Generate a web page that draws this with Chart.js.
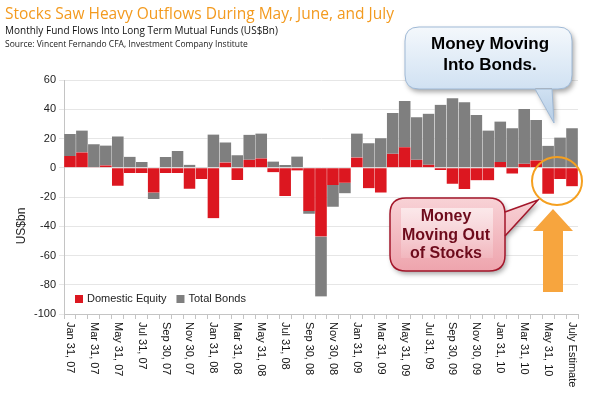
<!DOCTYPE html>
<html>
<head>
<meta charset="utf-8">
<script src="https://cdn.jsdelivr.net/npm/chart.js@4"></script>
<style>
  html, body { margin: 0; padding: 0; background: #fff; }
  #wrap { width: 590px; height: 396px; position: relative; }
</style>
</head>
<body>
<div id="wrap"><canvas id="flowChart" width="590" height="396"></canvas></div>
<script>
// month-end labels, only every other one is printed
const labels = [
  'Jan 31, 07', 'Feb 28, 07', 'Mar 31, 07', 'Apr 30, 07', 'May 31, 07', 'Jun 30, 07',
  'Jul 31, 07', 'Aug 31, 07', 'Sep 30, 07', 'Oct 31, 07', 'Nov 30, 07', 'Dec 31, 07',
  'Jan 31, 08', 'Feb 29, 08', 'Mar 31, 08', 'Apr 30, 08', 'May 31, 08', 'Jun 30, 08',
  'Jul 31, 08', 'Aug 31, 08', 'Sep 30, 08', 'Oct 31, 08', 'Nov 30, 08', 'Dec 31, 08',
  'Jan 31, 09', 'Feb 28, 09', 'Mar 31, 09', 'Apr 30, 09', 'May 31, 09', 'Jun 30, 09',
  'Jul 31, 09', 'Aug 31, 09', 'Sep 30, 09', 'Oct 31, 09', 'Nov 30, 09', 'Dec 31, 09',
  'Jan 31, 10', 'Feb 28, 10', 'Mar 31, 10', 'Apr 30, 10', 'May 31, 10', 'Jun 30, 10',
  'July Estimate'
];

// US$bn
const domesticEquity = [
  8, 10.5, 0.5, 1.6, -12.3, -3.6, -3.6, -17, -3.6, -3.6, -14.3, -7.7,
  -34.5, 3.6, -8.4, 5.5, 6.4, -3, -19.3, -1.8, -29.5, -47, -11.8, -10.2,
  7, -14, -17, 9.5, 14, 5.5, 2, -1.6, -10.9, -14.5, -8.6, -8.6,
  4, -4, 2.7, 5, -17.7, -7.7, -12.7
];
const totalBonds = [
  15, 15, 15.5, 13.6, 21.4, 7.5, 3.9, -4.3, 7.3, 11.4, 2, 0.5,
  22.7, 13.7, 8.6, 17, 17, 4.3, 1.8, 7.7, -2, -41, -14.8, -7.3,
  16.4, 16.8, 20.2, 28, 31.6, 29, 35, 43, 47.5, 44.8, 36, 25.5,
  27.6, 27, 37.5, 27.7, 15, 20.7, 27
];

const yMin = -100, yMax = 60, yStep = 20;

const RED = '#dc1720';
const GRAY = '#7f7f7f';
const AXIS_FONT = '"Liberation Sans", Arial, sans-serif';

function fitText(ctx, text, x, y, width, family, weight, maxSize) {
  let size = maxSize;
  ctx.font = weight + ' ' + size + 'px ' + family;
  while (ctx.measureText(text).width > width && size > 6) {
    size -= 0.25;
    ctx.font = weight + ' ' + size + 'px ' + family;
  }
  ctx.fillText(text, x, y);
}

function roundRectPath(ctx, x, y, w, h, r) {
  ctx.moveTo(x + r, y);
  ctx.lineTo(x + w - r, y);
  ctx.quadraticCurveTo(x + w, y, x + w, y + r);
  ctx.lineTo(x + w, y + h - r);
  ctx.quadraticCurveTo(x + w, y + h, x + w - r, y + h);
  ctx.lineTo(x + r, y + h);
  ctx.quadraticCurveTo(x, y + h, x, y + h - r);
  ctx.lineTo(x, y + r);
  ctx.quadraticCurveTo(x, y, x + r, y);
}

const decorations = {
  id: 'decorations',
  afterDraw(chart) {
    const ctx = chart.ctx;
    const xs = chart.scales.x;
    const area = chart.chartArea;
    ctx.save();

    // titles
    ctx.textBaseline = 'alphabetic';
    ctx.textAlign = 'left';
    ctx.fillStyle = '#f39a1e';
    fitText(ctx, 'Stocks Saw Heavy Outflows During May, June, and July', 5, 19, 390, '"Open Sans", sans-serif', 'normal', 18);
    ctx.fillStyle = '#111';
    fitText(ctx, 'Monthly Fund Flows Into Long Term Mutual Funds (US$Bn)', 5, 34, 275, '"Open Sans", sans-serif', 'normal', 12);
    ctx.fillStyle = '#222';
    fitText(ctx, 'Source: Vincent Fernando CFA, Investment Company Institute', 5, 47, 243, '"Open Sans", sans-serif', 'normal', 10);

    // y axis title
    ctx.save();
    ctx.translate(22, 226);
    ctx.rotate(-Math.PI / 2);
    ctx.textAlign = 'center';
    ctx.textBaseline = 'middle';
    ctx.fillStyle = '#222';
    ctx.font = '12px ' + AXIS_FONT;
    ctx.fillText('US$bn', 0, 0);
    ctx.restore();

    // x labels, rotated clockwise, every other month
    ctx.font = '11px ' + AXIS_FONT;
    ctx.fillStyle = '#111';
    labels.forEach((lab, i) => {
      if (i % 2 !== 0) return;
      const px = xs.getPixelForValue(i);
      ctx.save();
      ctx.translate(px, area.bottom + 8);
      ctx.rotate(Math.PI / 2);
      ctx.textAlign = 'left';
      ctx.textBaseline = 'middle';
      ctx.fillText(lab, 0, 0);
      ctx.restore();
    });

    // legend inside plot
    ctx.font = '11px ' + AXIS_FONT;
    ctx.textBaseline = 'middle';
    ctx.textAlign = 'left';
    const ly = area.bottom - 15;
    let lx = area.left + 11;
    chart.data.datasets.forEach(ds => {
      ctx.fillStyle = ds.backgroundColor;
      ctx.fillRect(lx, ly - 4, 8, 8);
      ctx.fillStyle = '#222';
      ctx.fillText(ds.label, lx + 12, ly);
      lx += 12 + ctx.measureText(ds.label).width + 10;
    });

    // blue bubble
    ctx.save();
    ctx.shadowColor = 'rgba(0,0,0,0.35)';
    ctx.shadowBlur = 5;
    ctx.shadowOffsetX = 2;
    ctx.shadowOffsetY = 3;
    ctx.beginPath();
    roundRectPath(ctx, 405, 27, 167, 62, 14);
    ctx.moveTo(535, 88);
    ctx.lineTo(554, 123);
    ctx.lineTo(552, 88);
    let g = ctx.createLinearGradient(0, 27, 0, 123);
    g.addColorStop(0, '#f4f8fc');
    g.addColorStop(0.6, '#d3e3f3');
    g.addColorStop(1, '#b5cde6');
    ctx.fillStyle = g;
    ctx.fill();
    ctx.restore();
    ctx.beginPath();
    roundRectPath(ctx, 405, 27, 167, 62, 14);
    ctx.strokeStyle = '#9fb9d6';
    ctx.lineWidth = 1;
    ctx.stroke();
    ctx.beginPath();
    ctx.moveTo(535, 89);
    ctx.lineTo(554, 123);
    ctx.lineTo(552, 89);
    ctx.stroke();
    ctx.fillStyle = '#000';
    ctx.textAlign = 'center';
    ctx.textBaseline = 'middle';
    ctx.font = 'bold 17px ' + AXIS_FONT;
    ctx.fillText('Money Moving', 490, 44);
    ctx.fillText('Into Bonds.', 490, 65);

    // pink bubble
    ctx.save();
    ctx.shadowColor = 'rgba(0,0,0,0.35)';
    ctx.shadowBlur = 5;
    ctx.shadowOffsetX = 2;
    ctx.shadowOffsetY = 3;
    ctx.beginPath();
    roundRectPath(ctx, 390, 198, 115, 73, 16);
    ctx.moveTo(504, 212);
    ctx.lineTo(538, 200);
    ctx.lineTo(504, 236);
    g = ctx.createLinearGradient(0, 198, 0, 271);
    g.addColorStop(0, '#f8d2d6');
    g.addColorStop(1, '#eea4ad');
    ctx.fillStyle = g;
    ctx.fill();
    ctx.restore();
    ctx.beginPath();
    roundRectPath(ctx, 390, 198, 115, 73, 16);
    ctx.strokeStyle = '#a3162a';
    ctx.lineWidth = 1.5;
    ctx.stroke();
    ctx.beginPath();
    ctx.moveTo(505, 212);
    ctx.lineTo(538, 200);
    ctx.lineTo(505, 236);
    ctx.stroke();
    // soft gloss behind the text
    g = ctx.createLinearGradient(0, 208, 0, 260);
    g.addColorStop(0, 'rgba(255,255,255,0.55)');
    g.addColorStop(1, 'rgba(255,255,255,0.1)');
    ctx.fillStyle = g;
    ctx.fillRect(401, 208, 92, 50);
    ctx.fillStyle = '#6e0b1c';
    ctx.font = 'bold 16px ' + AXIS_FONT;
    ctx.fillText('Money', 446, 217);
    ctx.fillText('Moving Out', 446, 236);
    ctx.fillText('of Stocks', 446, 254);

    // orange circle + arrow
    ctx.beginPath();
    ctx.ellipse(557, 181, 25, 24, 0, 0, Math.PI * 2);
    ctx.strokeStyle = '#f5a020';
    ctx.lineWidth = 2;
    ctx.stroke();
    ctx.beginPath();
    ctx.moveTo(553, 209);
    ctx.lineTo(573, 231);
    ctx.lineTo(563, 231);
    ctx.lineTo(563, 292);
    ctx.lineTo(543, 292);
    ctx.lineTo(543, 231);
    ctx.lineTo(533, 231);
    ctx.closePath();
    ctx.fillStyle = '#f7a53e';
    ctx.fill();

    ctx.restore();
  }
};

new Chart(document.getElementById('flowChart'), {
  type: 'bar',
  data: {
    labels: labels,
    datasets: [
      { label: 'Domestic Equity', data: domesticEquity, backgroundColor: RED,
        borderColor: 'rgba(255,255,255,0.35)', borderWidth: { left: 0.5, right: 0.5 }, borderSkipped: false },
      { label: 'Total Bonds', data: totalBonds, backgroundColor: GRAY,
        borderColor: 'rgba(255,255,255,0.35)', borderWidth: { left: 0.5, right: 0.5 }, borderSkipped: false }
    ]
  },
  options: {
    responsive: false,
    animation: false,
    devicePixelRatio: 1,
    categoryPercentage: 1,
    barPercentage: 1,
    layout: { padding: { top: 80, right: 12, bottom: 0, left: 0 }, autoPadding: false },
    plugins: { legend: { display: false }, tooltip: { enabled: false } },
    scales: {
      x: {
        stacked: true,
        offset: true,
        grid: { display: true, drawOnChartArea: false, offset: true, tickLength: 5, color: '#c4c4c4' },
        border: { color: '#c4c4c4' },
        ticks: { display: false },
        afterFit(s) { s.height = 82; }
      },
      y: {
        stacked: true,
        min: yMin,
        max: yMax,
        ticks: { stepSize: yStep, padding: 3, color: '#222', font: { family: AXIS_FONT, size: 11 } },
        grid: { color: '#e6e6e6', tickLength: 5 },
        border: { color: '#c4c4c4' },
        afterFit(s) { s.width = 64; }
      }
    }
  },
  plugins: [decorations]
});
</script>
</body>
</html>
